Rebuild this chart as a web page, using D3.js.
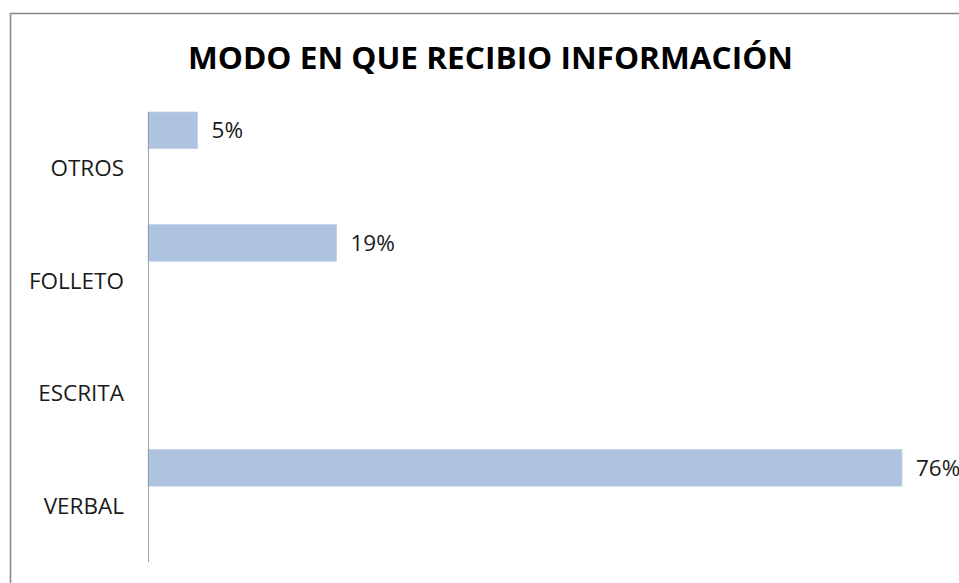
<!DOCTYPE html>
<meta charset="utf-8">
<style>
  body { margin: 0; background: #fff; }
  text { font-family: "Open Sans", "DejaVu Sans", sans-serif; }
</style>
<svg width="959" height="583"></svg>
<script src="https://cdn.jsdelivr.net/npm/d3@7"></script>
<script>
const categories = ["OTROS", "FOLLETO", "ESCRITA", "VERBAL"];
const values = [0.05, 0.19, 0, 0.76];
const title = "MODO EN QUE RECIBIO INFORMACIÓN";

const data = categories.map((c, i) => ({cat: c, value: values[i]}));

const svg = d3.select("svg");
const margin = {top: 112, bottom: 21, left: 148};
const height = 583;

// chart frame (cut off at the right and bottom)
svg.append("rect")
    .attr("x", 10.5)
    .attr("y", 13.5)
    .attr("width", 1000)
    .attr("height", 1000)
    .attr("fill", "none")
    .attr("stroke", "#8a8a8a")
    .attr("stroke-width", 1.6);

svg.append("text")
    .attr("x", 490.5)
    .attr("y", 69)
    .attr("text-anchor", "middle")
    .attr("font-weight", "bold")
    .attr("font-size", 30)
    .attr("fill", "#000")
    .attr("textLength", 605)
    .attr("lengthAdjust", "spacingAndGlyphs")
    .text(title);

const x = d3.scaleLinear()
    .domain([0, 0.8])
    .range([margin.left, margin.left + 793.7]);

const y = d3.scaleBand()
    .domain(categories)
    .range([margin.top, height - margin.bottom])
    .paddingInner(0);

const barH = y.bandwidth() * 0.326;

svg.append("g")
  .selectAll("rect")
  .data(data.filter(d => d.value > 0))
  .join("rect")
    .attr("x", x(0))
    .attr("y", d => y(d.cat))
    .attr("width", d => x(d.value) - x(0))
    .attr("height", barH)
    .attr("fill", "#adc3e0")
    .attr("stroke", "#c3d3ea")
    .attr("stroke-width", 0.8);

svg.append("g")
    .attr("font-size", 22.5)
    .attr("fill", "#1a1a1a")
  .selectAll("text")
  .data(data.filter(d => d.value > 0))
  .join("text")
    .attr("x", d => x(d.value) + 14)
    .attr("y", d => y(d.cat) + barH / 2)
    .attr("dy", "0.35em")
    .text(d => d3.format(".0%")(d.value));

// category labels
svg.append("g")
    .attr("font-size", 22.5)
    .attr("text-anchor", "end")
    .attr("fill", "#1a1a1a")
  .selectAll("text")
  .data(categories)
  .join("text")
    .attr("x", 124)
    .attr("y", d => y(d) + y.bandwidth() / 2)
    .attr("dy", "0.35em")
    .text(d => d);

// vertical axis line
svg.append("line")
    .attr("x1", margin.left + 0.5)
    .attr("x2", margin.left + 0.5)
    .attr("y1", margin.top)
    .attr("y2", height - margin.bottom)
    .attr("stroke", "#a0a0a0")
    .attr("stroke-width", 1);
</script>
